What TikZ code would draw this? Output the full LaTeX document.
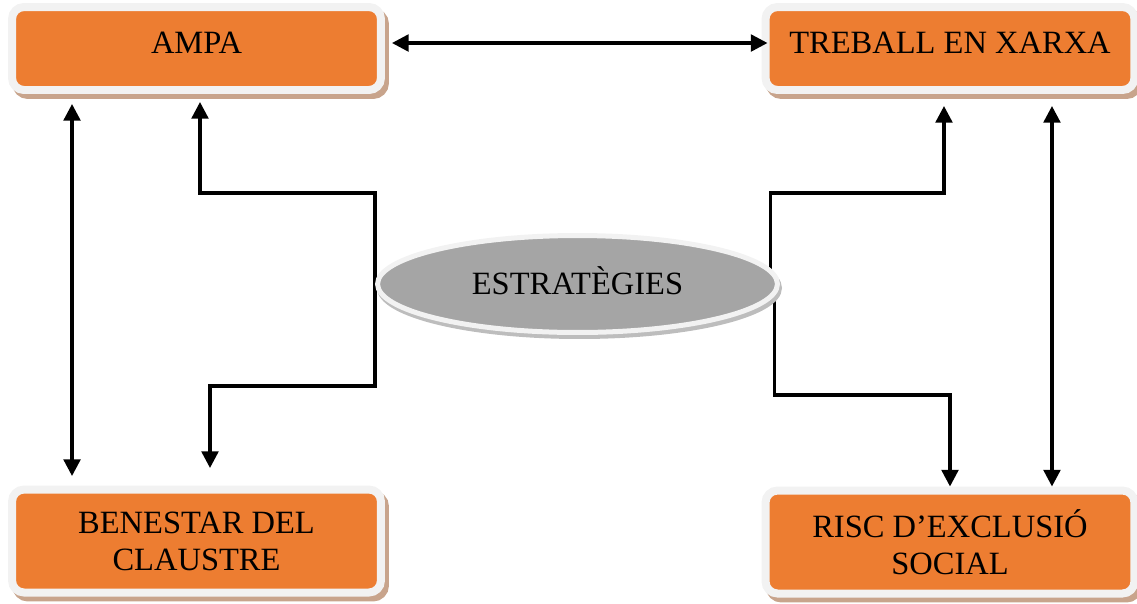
\documentclass[tikz,border=0pt]{standalone}
\usepackage{fontspec}
\setmainfont{Liberation Serif}
\usetikzlibrary{arrows.meta,shapes.geometric,shadows,backgrounds}

\definecolor{boxorange}{HTML}{ED7D31}
\definecolor{framegray}{HTML}{F2F2F2}
\definecolor{shadebrown}{HTML}{C8A48C}
\definecolor{ovalgray}{HTML}{A5A5A5}
\definecolor{shadegray}{HTML}{BDBDBD}

\tikzset{
  block/.style={rectangle, rounded corners=0.24cm, fill=boxorange, draw=framegray,
    line width=0.16cm, minimum width=7.38cm, align=center,
    font=\fontsize{18.5}{21}\selectfont,
    drop shadow={shadow xshift=0.08cm, shadow yshift=-0.1cm, fill=shadebrown,
      draw=shadebrown, line width=0.16cm, opacity=1}},
  oval/.style={ellipse, fill=ovalgray, draw=framegray, line width=0.1cm,
    minimum width=8cm, minimum height=1.94cm, inner sep=0pt, text depth=3.5pt,
    font=\fontsize{18.5}{21}\selectfont,
    drop shadow={shadow xshift=0.04cm, shadow yshift=-0.08cm, fill=shadegray,
      draw=shadegray, line width=0.1cm, opacity=1}},
  link/.style={line width=1.9pt, -{Triangle[length=9.5pt,width=9.5pt]}},
  twoway/.style={line width=1.9pt, {Triangle[length=9.5pt,width=9.5pt]}-{Triangle[length=9.5pt,width=9.5pt]}}
}

\begin{document}
\begin{tikzpicture}[x=0.02cm, y=-0.02cm]
\useasboundingbox (0,0) rectangle (1137,603);

% boxes
\node[block, minimum height=1.66cm, text depth=6.8pt] (ampa) at (196.5,48.5) {AMPA};
\node[block, minimum height=1.66cm, text depth=6.8pt] (xarxa) at (950,48.5) {TREBALL EN XARXA};
\node[block, minimum height=2.06cm] (claustre) at (196.5,541) {BENESTAR DEL\\CLAUSTRE};
\node[block, minimum height=2.06cm] (risc) at (950,542) {RISC D’EXCLUSIÓ\\SOCIAL};

% central ellipse
\node[oval] (estrat) at (577.5,284) {ESTRATÈGIES};

% two-way links
\draw[twoway, shorten <=0.14cm, shorten >=-0.12cm] ([yshift=0.11cm]ampa.east) -- ([yshift=0.11cm]xarxa.west);
\draw[twoway, shorten <=0.2cm, shorten >=0.19cm] ([xshift=-2.49cm]ampa.south) -- ([xshift=-2.49cm]claustre.north);
\draw[twoway, shorten <=0.24cm] ([xshift=2.04cm]xarxa.south) -- ([xshift=2.04cm]risc.north);

% links out of the ellipse
\begin{pgfonlayer}{background}
\draw[link, shorten >=0.16cm] (estrat.west) -- ++(0,-91) -| ([xshift=0.07cm]ampa.south);
\draw[link, shorten >=0.35cm] (estrat.west) -- ++(0,102) -| ([xshift=0.27cm]claustre.north);
\draw[link, shorten >=0.24cm] ([xshift=-0.19cm]estrat.east) -- ++(0,-91) -| ([xshift=-0.12cm]xarxa.south);
\draw[link] ([xshift=-0.11cm]estrat.east) -- ++(0,111) -| (risc.north);
\end{pgfonlayer}
\end{tikzpicture}
\end{document}
